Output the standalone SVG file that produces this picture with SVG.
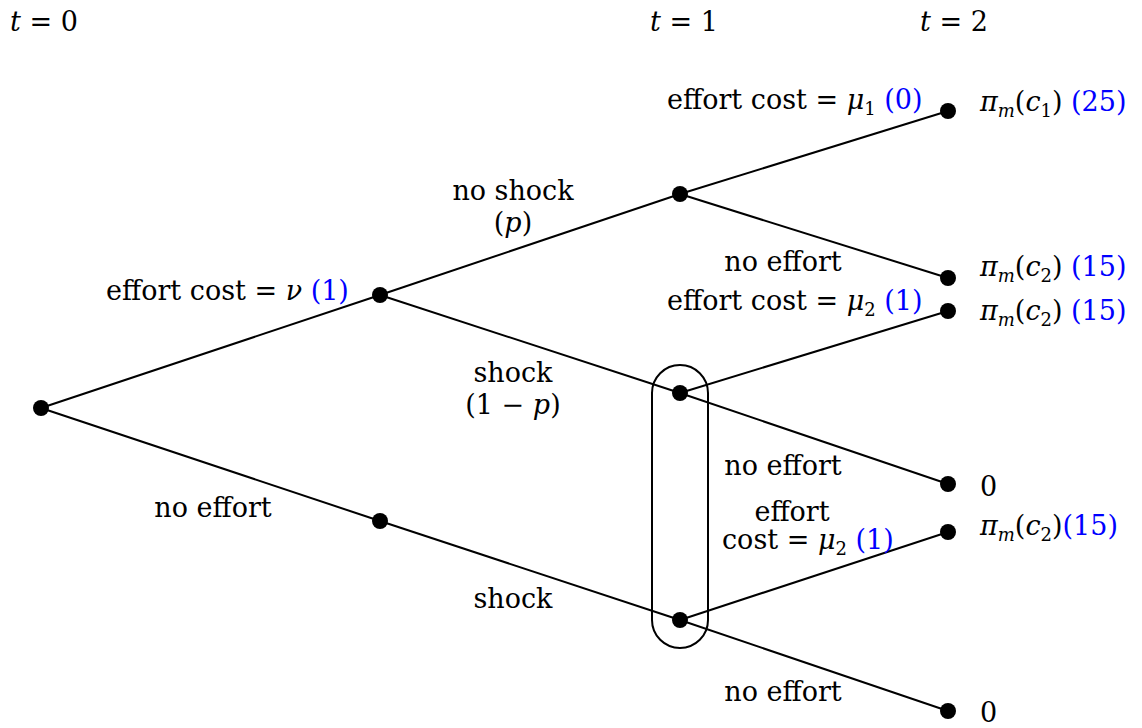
<svg xmlns="http://www.w3.org/2000/svg" width="1142" height="728" viewBox="0 0 1142 728">
<style>
text{font-family:"DejaVu Serif","Liberation Serif",serif;font-size:27px;fill:#000}
.i{font-style:italic}
.s{font-size:18px}
.b{fill:#0000ff}
.m{text-anchor:middle}
line{stroke:#000;stroke-width:2}
circle{fill:#000}
</style>
<rect width="1142" height="728" fill="#fff"/>
<g id="time-labels">
<text x="10" y="31"><tspan class="i">t</tspan> = 0</text>
<text x="650" y="31"><tspan class="i">t</tspan> = 1</text>
<text x="920" y="31"><tspan class="i">t</tspan> = 2</text>
</g>
<g id="connectors">
<line x1="41" y1="408" x2="380" y2="295"/>
<line x1="41" y1="408" x2="380" y2="521"/>
<line x1="380" y1="295" x2="680" y2="194"/>
<line x1="380" y1="295" x2="680" y2="393"/>
<line x1="380" y1="521" x2="680" y2="620"/>
<line x1="680" y1="194" x2="948" y2="111"/>
<line x1="680" y1="194" x2="948" y2="278"/>
<line x1="680" y1="393" x2="948" y2="311"/>
<line x1="680" y1="393" x2="948" y2="484"/>
<line x1="680" y1="620" x2="948" y2="532"/>
<line x1="680" y1="620" x2="948" y2="711"/>
</g>
<g id="info-set"><rect x="652" y="365" width="56" height="283" rx="28" ry="28" fill="none" stroke="#000" stroke-width="2"/></g>
<g id="root"><circle cx="41" cy="408" r="8"/></g>
<g id="n-effort"><circle cx="380" cy="295" r="8"/></g>
<g id="n-noeffort"><circle cx="380" cy="521" r="8"/></g>
<g id="n-noshock"><circle cx="680" cy="194" r="8"/></g>
<g id="n-shock1"><circle cx="680" cy="393" r="8"/></g>
<g id="n-shock2"><circle cx="680" cy="620" r="8"/></g>
<g id="leaf1"><circle cx="948" cy="111" r="8"/><text x="980" y="111"><tspan class="i">π</tspan><tspan class="i s" dy="6">m</tspan><tspan dy="-6">(</tspan><tspan class="i">c</tspan><tspan class="s" dy="6">1</tspan><tspan dy="-6">) </tspan><tspan class="b">(25)</tspan></text></g>
<g id="leaf2"><circle cx="948" cy="278" r="8"/><text x="980" y="276"><tspan class="i">π</tspan><tspan class="i s" dy="6">m</tspan><tspan dy="-6">(</tspan><tspan class="i">c</tspan><tspan class="s" dy="6">2</tspan><tspan dy="-6">) </tspan><tspan class="b">(15)</tspan></text></g>
<g id="leaf3"><circle cx="948" cy="311" r="8"/><text x="980" y="320"><tspan class="i">π</tspan><tspan class="i s" dy="6">m</tspan><tspan dy="-6">(</tspan><tspan class="i">c</tspan><tspan class="s" dy="6">2</tspan><tspan dy="-6">) </tspan><tspan class="b">(15)</tspan></text></g>
<g id="leaf4"><circle cx="948" cy="484" r="8"/><text x="980" y="496">0</text></g>
<g id="leaf5"><circle cx="948" cy="532" r="8"/><text x="980" y="535"><tspan class="i">π</tspan><tspan class="i s" dy="6">m</tspan><tspan dy="-6">(</tspan><tspan class="i">c</tspan><tspan class="s" dy="6">2</tspan><tspan dy="-6">)</tspan><tspan class="b">(15)</tspan></text></g>
<g id="leaf6"><circle cx="948" cy="711" r="8"/><text x="980" y="722">0</text></g>
<g id="edge-labels">
<text x="106" y="300">effort cost = <tspan class="i">ν</tspan> <tspan class="b">(1)</tspan></text>
<text class="m" x="513" y="200">no shock</text>
<text class="m" x="513" y="232">(<tspan class="i">p</tspan>)</text>
<text class="m" x="513" y="382">shock</text>
<text class="m" x="513" y="414">(1 − <tspan class="i">p</tspan>)</text>
<text class="m" x="213" y="517">no effort</text>
<text class="m" x="513" y="608">shock</text>
<text x="667" y="109">effort cost = <tspan class="i">μ</tspan><tspan class="s" dy="6">1</tspan><tspan dy="-6"> </tspan><tspan class="b">(0)</tspan></text>
<text class="m" x="783" y="271">no effort</text>
<text x="667" y="310">effort cost = <tspan class="i">μ</tspan><tspan class="s" dy="6">2</tspan><tspan dy="-6"> </tspan><tspan class="b">(1)</tspan></text>
<text class="m" x="783" y="475">no effort</text>
<text class="m" x="792" y="521">effort</text>
<text x="722" y="549">cost = <tspan class="i">μ</tspan><tspan class="s" dy="6">2</tspan><tspan dy="-6"> </tspan><tspan class="b">(1)</tspan></text>
<text class="m" x="783" y="701">no effort</text>
</g>
</svg>
